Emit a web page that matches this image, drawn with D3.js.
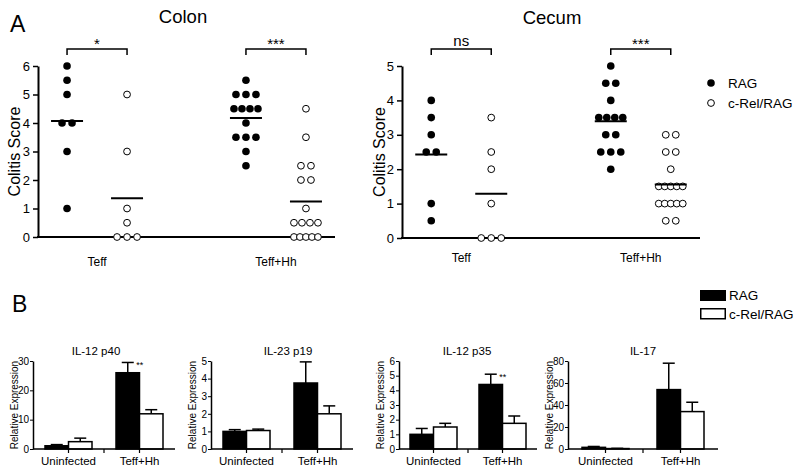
<!DOCTYPE html>
<html><head><meta charset="utf-8">
<script src="https://cdn.jsdelivr.net/npm/d3@7/dist/d3.min.js"></script>
<style>body{margin:0;background:#fff} text{font-family:"Liberation Sans",Arial,Helvetica,sans-serif;fill:#000}</style>
</head><body><svg id="c" width="800" height="472"></svg>
<script>
// ---------- DATA ----------
const groupsA = ["Teff", "Teff+Hh"];
const seriesNames = ["RAG", "c-Rel/RAG"];
const colonRAG_Teff = [6, 5.5, 5, 4, 4, 3, 1];
const colonRel_Teff = [5, 3, 1, 0.5, 0, 0, 0];
const colonRAG_Hh = [5.5, 5, 5, 5, 4.5, 4.5, 4.5, 4.5, 4, 3.5, 3.5, 3.5, 3, 2.5];
const colonRel_Hh = [4.5, 3.5, 2.5, 2.5, 2, 2, 1, 0.5, 0.5, 0.5, 0.5, 0, 0, 0, 0, 0];
const cecumRAG_Teff = [4, 3.5, 3, 2.5, 2.5, 1, 0.5];
const cecumRel_Teff = [3.5, 2.5, 2, 1, 0, 0, 0];
const cecumRAG_Hh = [5, 4.5, 4.5, 4, 3.5, 3.5, 3.5, 3.5, 3, 3, 2.5, 2.5, 2.5, 2];
const cecumRel_Hh = [3, 3, 2.5, 2.5, 2, 1.5, 1.5, 1.5, 1.5, 1.5, 1, 1, 1, 1, 1, 0.5, 0.5];
const colonTicks = [0, 1, 2, 3, 4, 5, 6];
const cecumTicks = [0, 1, 2, 3, 4, 5];
const colonSig = ["*", "***"];
const cecumSig = ["ns", "***"];

const groupsB = ["Uninfected", "Teff+Hh"];
const p40RAG = [1.1, 26], p40RAGerr = [0.4, 3.5], p40Rel = [2.5, 12], p40RelErr = [1.2, 1.4];
const p19RAG = [1.0, 3.75], p19RAGerr = [0.1, 1.2], p19Rel = [1.05, 2.0], p19RelErr = [0.08, 0.45];
const p35RAG = [1.0, 4.4], p35RAGerr = [0.4, 0.7], p35Rel = [1.5, 1.75], p35RelErr = [0.25, 0.5];
const il17RAG = [1.5, 54], il17RAGerr = [0.8, 24], il17Rel = [0.4, 34], il17RelErr = [0.2, 8.5];
const p40Ticks = [0, 10, 20, 30], p19Ticks = [0, 1, 2, 3, 4, 5], p35Ticks = [0, 1, 2, 3, 4, 5, 6], il17Ticks = [0, 20, 40, 60, 80];
const p40Sig = ["", "**"], p19Sig = ["", ""], p35Sig = ["", "**"], il17Sig = ["", ""];

// ---------- DRAW ----------
const svg = d3.select("#c");
const FONT = '"Liberation Sans",Arial,Helvetica,sans-serif';

function rowOffsets(vals) {
  const counts = {}, idx = {};
  vals.forEach(v => counts[v] = (counts[v] || 0) + 1);
  return vals.map(v => {
    const n = counts[v]; idx[v] = (idx[v] || 0);
    const i = idx[v]++;
    const sp = n > 1 ? Math.min(10, 24 / (n - 1)) : 0;
    return (i - (n - 1) / 2) * sp;
  });
}

function scatter(cfg) {
  const g = svg.append("g");
  const xg = d3.scalePoint().domain(groupsA).range([cfg.x0, cfg.x1]).padding(0.33);
  const xs = d3.scalePoint().domain(seriesNames).range([-30, 30]);
  const y = d3.scaleLinear().domain([0, d3.max(cfg.ticks)]).range([cfg.y0, cfg.yTop]);

  const ax = g.append("g").attr("transform", `translate(${cfg.x0},0)`)
    .call(d3.axisLeft(y).tickValues(cfg.ticks).tickSize(5).tickSizeOuter(0).tickPadding(3).tickFormat(d3.format("d")));
  ax.select(".domain").attr("stroke-width", 2);
  ax.selectAll(".tick line").attr("stroke-width", 1.5);
  ax.selectAll(".tick text").style("font-family", FONT).style("font-size", "13px");
  g.append("line").attr("x1", cfg.x0 - 1).attr("x2", cfg.x1).attr("y1", cfg.y0).attr("y2", cfg.y0)
    .attr("stroke", "#000").attr("stroke-width", 2);

  g.append("text").attr("x", cfg.labelX).attr("y", (cfg.y0 + cfg.yTop) / 2)
    .attr("transform", `rotate(-90,${cfg.labelX},${(cfg.y0 + cfg.yTop) / 2})`)
    .attr("text-anchor", "middle").attr("dominant-baseline", "central")
    .style("font-size", "16px").text("Colitis Score");
  g.append("text").attr("x", cfg.titleX).attr("y", cfg.titleY).attr("text-anchor", "middle")
    .style("font-size", "18.5px").text(cfg.title);

  groupsA.forEach((grp, gi) => {
    g.append("text").attr("x", xg(grp)).attr("y", cfg.catY).attr("text-anchor", "middle")
      .style("font-size", "12px").text(grp);
    const xa = xg(grp) + xs(seriesNames[0]), xb = xg(grp) + xs(seriesNames[1]);
    g.append("path").attr("d", `M${xa},55V49H${xb}V55`).attr("fill", "none").attr("stroke", "#000").attr("stroke-width", 1.5);
    const isStar = cfg.sig[gi].includes("*");
    g.append("text").attr("x", (xa + xb) / 2).attr("y", isStar ? 49 : 46).attr("text-anchor", "middle")
      .style("font-size", isStar ? "15px" : "15px").text(cfg.sig[gi]);

    seriesNames.forEach((s, si) => {
      const vals = cfg.data[gi][si];
      const cx = xg(grp) + xs(s);
      const offs = rowOffsets(vals);
      g.selectAll(null).data(vals).enter().append("circle")
        .attr("cx", (d, i) => cx + offs[i]).attr("cy", d => y(d))
        .attr("r", si === 0 ? 3.8 : 3.4)
        .attr("fill", si === 0 ? "#000" : "#fff").attr("stroke", "#000").attr("stroke-width", si === 0 ? 0 : 1);
      const m = d3.mean(vals);
      g.append("line").attr("x1", cx - 16).attr("x2", cx + 16).attr("y1", y(m)).attr("y2", y(m))
        .attr("stroke", "#000").attr("stroke-width", 2);
    });
  });
}

scatter({x0: 38, x1: 335, y0: 237, yTop: 66, ticks: colonTicks, title: "Colon", titleX: 183, titleY: 23,
  labelX: 14, catY: 266, sig: colonSig,
  data: [[colonRAG_Teff, colonRel_Teff], [colonRAG_Hh, colonRel_Hh]]});
scatter({x0: 402, x1: 700, y0: 238, yTop: 66, ticks: cecumTicks, title: "Cecum", titleX: 552, titleY: 24,
  labelX: 379, catY: 262, sig: cecumSig,
  data: [[cecumRAG_Teff, cecumRel_Teff], [cecumRAG_Hh, cecumRel_Hh]]});

// panel letters
svg.append("text").attr("x", 10).attr("y", 32).style("font-size", "23px").text("A");
svg.append("text").attr("x", 12).attr("y", 312).style("font-size", "23px").text("B");

// legend A
svg.append("circle").attr("cx", 711).attr("cy", 83).attr("r", 3.8).attr("fill", "#000");
svg.append("circle").attr("cx", 711).attr("cy", 103).attr("r", 3.4).attr("fill", "#fff").attr("stroke", "#000");
svg.append("text").attr("x", 728).attr("y", 88).style("font-size", "13.5px").text(seriesNames[0]);
svg.append("text").attr("x", 728).attr("y", 108).style("font-size", "13.5px").text(seriesNames[1]);

// legend B
svg.append("rect").attr("x", 700).attr("y", 290).attr("width", 26).attr("height", 11).attr("fill", "#000");
svg.append("rect").attr("x", 700.75).attr("y", 308.75).attr("width", 24.5).attr("height", 10).attr("fill", "#fff").attr("stroke", "#000").attr("stroke-width", 1.5);
svg.append("text").attr("x", 729).attr("y", 300).style("font-size", "13.5px").text(seriesNames[0]);
svg.append("text").attr("x", 729).attr("y", 319).style("font-size", "13.5px").text(seriesNames[1]);

function bars(cfg) {
  const g = svg.append("g");
  const xg = d3.scalePoint().domain(groupsB).range([cfg.x0, cfg.x0 + cfg.w]).padding(0.5);
  const bw = 23.5;
  const y = d3.scaleLinear().domain([0, d3.max(cfg.ticks)]).range([449, 361]);
  const series = [{v: cfg.rag, e: cfg.ragErr, fill: "#000", off: -bw}, {v: cfg.rel, e: cfg.relErr, fill: "#fff", off: 0}];
  groupsB.forEach((grp, gi) => {
    series.forEach((s, si) => {
      const bx = xg(grp) + s.off, cx = bx + bw / 2;
      const top = y(s.v[gi] + s.e[gi]);
      g.append("line").attr("x1", cx).attr("x2", cx).attr("y1", y(s.v[gi])).attr("y2", top).attr("stroke", "#000").attr("stroke-width", 1.5);
      g.append("line").attr("x1", cx - 6).attr("x2", cx + 6).attr("y1", top).attr("y2", top).attr("stroke", "#000").attr("stroke-width", 1.5);
      g.append("rect").attr("x", bx).attr("y", y(s.v[gi])).attr("width", bw).attr("height", 449 - y(s.v[gi]))
        .attr("fill", s.fill).attr("stroke", "#000").attr("stroke-width", 1.5);
      if (si === 0 && cfg.sig[gi]) {
        g.append("text").attr("x", cx + 12).attr("y", top + 6).attr("text-anchor", "middle").style("font-size", "9px").text(cfg.sig[gi]);
      }
    });
    g.append("text").attr("x", xg(grp)).attr("y", 465).attr("text-anchor", "middle").style("font-size", "11.5px").text(grp);
    g.append("line").attr("x1", xg(grp)).attr("x2", xg(grp)).attr("y1", 449).attr("y2", 453).attr("stroke", "#000").attr("stroke-width", 1.2);
  });
  const mid = (xg(groupsB[0]) + xg(groupsB[1])) / 2;
  g.append("line").attr("x1", mid).attr("x2", mid).attr("y1", 449).attr("y2", 453).attr("stroke", "#000").attr("stroke-width", 1.2);
  const ax = g.append("g").attr("transform", `translate(${cfg.x0},0)`)
    .call(d3.axisLeft(y).tickValues(cfg.ticks).tickSize(3).tickSizeOuter(0).tickPadding(1).tickFormat(d3.format("d")));
  ax.select(".domain").attr("stroke-width", 1.5);
  ax.selectAll(".tick text").style("font-family", FONT).style("font-size", "10px");
  g.append("line").attr("x1", cfg.x0).attr("x2", cfg.x0 + cfg.w).attr("y1", 449).attr("y2", 449).attr("stroke", "#000").attr("stroke-width", 1.5);
  g.append("text").attr("x", cfg.titleX).attr("y", 355).attr("text-anchor", "middle").style("font-size", "11.5px").text(cfg.title);
  const lx = cfg.x0 - 19, ly = 405;
  g.append("text").attr("x", lx).attr("y", ly).attr("transform", `rotate(-90,${lx},${ly})`)
    .attr("text-anchor", "middle").attr("dominant-baseline", "central").style("font-size", "10px").text("Relative Expression");
}

bars({title: "IL-12 p40", x0: 33, w: 142, titleX: 96, ticks: p40Ticks, rag: p40RAG, ragErr: p40RAGerr, rel: p40Rel, relErr: p40RelErr, sig: p40Sig});
bars({title: "IL-23 p19", x0: 211, w: 142, titleX: 288, ticks: p19Ticks, rag: p19RAG, ragErr: p19RAGerr, rel: p19Rel, relErr: p19RelErr, sig: p19Sig});
bars({title: "IL-12 p35", x0: 399, w: 138, titleX: 467, ticks: p35Ticks, rag: p35RAG, ragErr: p35RAGerr, rel: p35Rel, relErr: p35RelErr, sig: p35Sig});
bars({title: "IL-17", x0: 568, w: 150, titleX: 643, ticks: il17Ticks, rag: il17RAG, ragErr: il17RAGerr, rel: il17Rel, relErr: il17RelErr, sig: il17Sig});
</script></body></html>
